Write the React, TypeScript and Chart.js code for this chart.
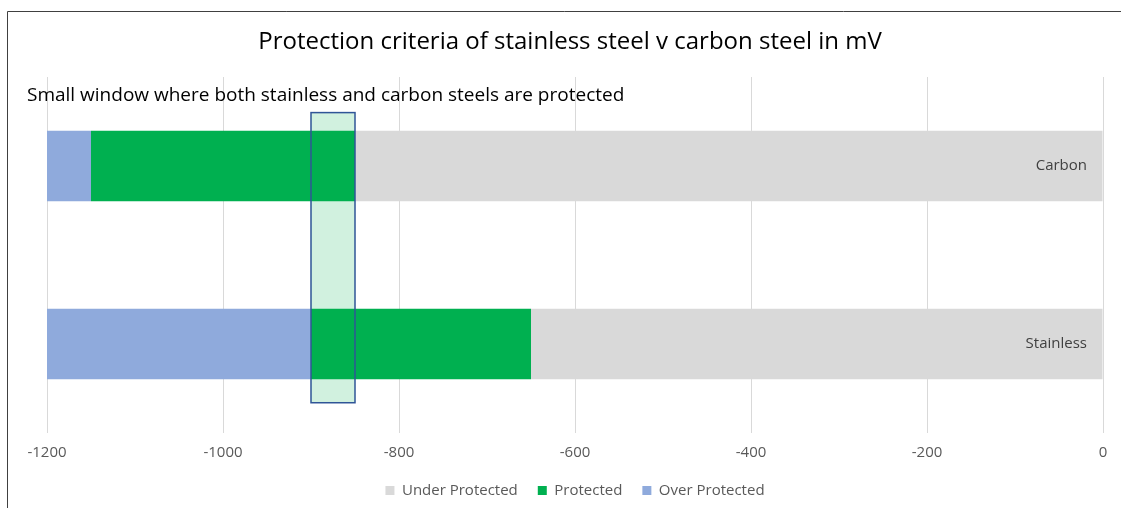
import React, { useEffect, useRef } from "react";
import { Chart, registerables } from "chart.js";

Chart.register(...registerables);

const categories = ["Carbon", "Stainless"];
const underProtected = [-850, -650];
const protectedVals = [-300, -250];
const overProtected = [-50, -300];
const windowRange = [-900, -850];
const windowCategorySpan = [-0.3, 1.33];
const xTicks = [-1200, -1000, -800, -600, -400, -200, 0];
const titleText = "Protection criteria of stainless steel v carbon steel in mV";
const noteText = "Small window where both stainless and carbon steels are protected";

const FONT = "'Open Sans', 'Noto Sans', sans-serif";

const overlayPlugin = {
  id: "overlay",
  afterDatasetsDraw(chart: any) {
    const { ctx, scales } = chart;
    const x = scales.x;
    const y = scales.y;
    const x1 = x.getPixelForValue(windowRange[0]);
    const x2 = x.getPixelForValue(windowRange[1]);
    const y1 = y.getPixelForValue(windowCategorySpan[0]);
    const y2 = y.getPixelForValue(windowCategorySpan[1]);
    ctx.save();
    ctx.fillStyle = "rgba(0,176,80,0.18)";
    ctx.fillRect(x1, y1, x2 - x1, y2 - y1);
    ctx.strokeStyle = "#2F5597";
    ctx.lineWidth = 1.5;
    ctx.strokeRect(x1, y1, x2 - x1, y2 - y1);
    ctx.fillStyle = "#404040";
    ctx.font = `15px ${FONT}`;
    ctx.textAlign = "right";
    ctx.textBaseline = "middle";
    categories.forEach((c, i) => {
      ctx.fillText(c, x.getPixelForValue(0) - 16, y.getPixelForValue(i));
    });
    ctx.fillStyle = "#000000";
    ctx.font = `19px ${FONT}`;
    ctx.textAlign = "left";
    ctx.fillText(noteText, 27, 96);
    ctx.font = `24px ${FONT}`;
    ctx.textAlign = "center";
    ctx.fillText(titleText, 570, 42);
    ctx.restore();
  },
  afterDraw(chart: any) {
    const { ctx, width, height } = chart;
    ctx.save();
    ctx.strokeStyle = "#404040";
    ctx.lineWidth = 1;
    ctx.beginPath();
    ctx.moveTo(7.5, height + 5);
    ctx.lineTo(7.5, 11.5);
    ctx.lineTo(width + 5, 11.5);
    ctx.stroke();
    ctx.restore();
  },
};

export default function App() {
  const ref = useRef<HTMLCanvasElement>(null);
  useEffect(() => {
    if (!ref.current) return;
    const chart = new Chart(ref.current, {
      type: "bar",
      data: {
        labels: categories,
        datasets: [
          { label: "Under Protected", data: underProtected, backgroundColor: "#D9D9D9" },
          { label: "Protected", data: protectedVals, backgroundColor: "#00B050" },
          { label: "Over Protected", data: overProtected, backgroundColor: "#8FAADC" },
        ],
      },
      options: {
        indexAxis: "y",
        animation: false,
        responsive: false,
        maintainAspectRatio: false,
        layout: { padding: { left: 47, right: 18, top: 77, bottom: 0 } },
        datasets: { bar: { barPercentage: 0.395, categoryPercentage: 1 } },
        scales: {
          x: {
            stacked: true,
            min: -1200,
            max: 0,
            afterBuildTicks: (axis: any) => {
              axis.ticks = xTicks.map((v) => ({ value: v }));
            },
            afterFit: (axis: any) => {
              axis.height = 30;
            },
            grid: { color: "#D9D9D9", drawTicks: false },
            border: { display: false },
            ticks: {
              padding: 11,
              color: "#595959",
              font: { family: FONT, size: 15 },
              callback: (v: any) => String(v),
            },
          },
          y: {
            stacked: true,
            display: false,
          },
        },
        plugins: {
          title: { display: false },
          legend: {
            position: "bottom",
            labels: {
              color: "#595959",
              font: { family: FONT, size: 15 },
              boxWidth: 9,
              boxHeight: 9,
              padding: 20,
            },
          },
          tooltip: { enabled: false },
        },
      },
      plugins: [overlayPlugin],
    });
    return () => chart.destroy();
  }, []);
  return (
    <div style={{ position: "fixed", left: 0, top: 0, width: 1121, height: 508, background: "#fff" }}>
      <canvas ref={ref} width={1121} height={508} />
    </div>
  );
}
